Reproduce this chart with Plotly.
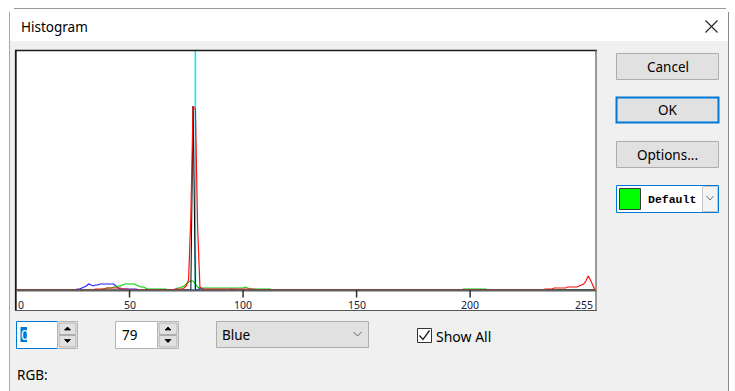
import plotly.graph_objects as go

W, H = 735, 391

# ---------------- data (histogram counts per channel, arbitrary units) ----------------
red_bins = [35, 36, 37, 38, 39, 40, 41, 42, 43, 44, 45, 46, 47, 48, 49,
            70, 71, 72, 73, 74, 75, 76, 77, 78, 79, 80, 81,
            82, 83, 84, 85, 86, 87, 88, 89, 90, 91, 92, 93, 94, 95, 96, 97, 98, 99, 100, 101, 102, 103, 104,
            233, 234, 235, 236, 237, 238, 239, 240, 241, 242, 243, 244, 245, 246, 247,
            248, 249, 250, 251, 252, 253, 254]
red_counts = [1, 1, 1, 1, 1, 2, 2, 2, 2, 2, 2, 2, 1, 1, 1,
              1, 1, 1, 1, 2, 4, 10, 73, 184, 181, 62, 3,
              1, 1, 1, 1, 1, 1, 1, 1, 1, 1, 1, 1, 1, 1, 1, 1, 1, 1, 1, 1, 1, 1, 1,
              1, 1, 1, 1, 2, 2, 2, 2, 2, 2, 3, 3, 3, 3, 3,
              4, 5, 6, 9, 14, 10, 5]

green_bins = [38, 39, 40, 41, 42, 43, 44, 45, 46, 47, 48, 49, 50, 51, 52, 53, 54, 55, 56, 57,
              58, 59, 60, 61, 62, 63, 64, 65, 66,
              71, 72, 73, 74, 75, 76, 77, 78, 79, 80,
              81, 82, 83, 84, 85, 86, 87, 88, 89, 90, 91, 92, 93, 94, 95, 96, 97, 98, 99, 100,
              101, 102, 103, 104, 105, 106, 107, 108, 109, 110, 111, 112,
              197, 198, 199, 200, 201, 202, 203, 204, 205, 206, 207]
green_counts = [1, 1, 2, 2, 2, 3, 3, 4, 4, 5, 6, 6, 6, 6, 6, 5, 4, 3, 3, 2,
                1, 1, 1, 1, 1, 1, 1, 1, 1,
                2, 2, 3, 4, 6, 8, 9, 9, 6, 3,
                2, 2, 2, 2, 2, 2, 2, 2, 2, 2, 2, 2, 2, 2, 2, 2, 2, 2, 2, 2,
                3, 2, 1, 1, 1, 1, 1, 1, 1, 1, 1, 1,
                1, 1, 1, 1, 1, 1, 1, 1, 1, 1, 1]

blue_bins = [27, 28, 29, 30, 31, 32, 33, 34, 35, 36, 37, 38, 39, 40, 41, 42, 43, 44, 45,
             46, 47, 48, 49, 50, 51, 52, 53, 81, 82, 95, 105]
blue_counts = [1, 1, 2, 3, 4, 6, 5, 4, 5, 5, 6, 6, 6, 6, 6, 6, 6, 4, 2,
               1, 1, 1, 1, 1, 1, 1, 1, 2, 1, 1, 1]

black_bins = [78]
black_counts = [184]

cursor_value = 79
tick_values = [0, 50, 100, 150, 200, 255]
tick_labels = ["0", "50", "100", "150", "200", "255"]


def full(bins, counts):
    arr = [0] * 256
    for b, c in zip(bins, counts):
        arr[b] = c
    return arr


levels = list(range(256))

# ---------------- helpers (pixel -> paper) ----------------
def X(px):
    return px / W


def Y(py):
    return 1 - py / H


shapes = []
annotations = []
FONT = "Noto Sans"


def rect(x0, y0, x1, y1, fill, line=None, lw=1, layer="below"):
    shapes.append(dict(type="rect", xref="paper", yref="paper",
                       x0=X(x0), y0=Y(y0), x1=X(x1), y1=Y(y1),
                       fillcolor=fill, layer=layer,
                       line=dict(color=line if line else fill, width=lw if line else 0)))


def seg(x0, y0, x1, y1, color, lw=1, layer="above"):
    shapes.append(dict(type="line", xref="paper", yref="paper",
                       x0=X(x0), y0=Y(y0), x1=X(x1), y1=Y(y1),
                       layer=layer, line=dict(color=color, width=lw)))


def poly(points, color, fill=None, lw=1, closed=False):
    p = "M " + " L ".join(f"{X(a):.5f},{Y(b):.5f}" for a, b in points)
    if closed:
        p += " Z"
    shapes.append(dict(type="path", xref="paper", yref="paper", path=p, layer="above",
                       fillcolor=fill if fill else "rgba(0,0,0,0)",
                       line=dict(color=color, width=lw)))


def text(x, y, s, size=13, color="#000000", anchor="left", family=FONT):
    annotations.append(dict(xref="paper", yref="paper", x=X(x), y=Y(y), text=s,
                            showarrow=False, xanchor=anchor, yanchor="middle",
                            font=dict(size=size, color=color, family=family)))


# ---------------- dialog chrome ----------------
rect(9, 41, 729, 391, "#f0f0f0")
rect(9, 8.5, 729, 41, "#ffffff")
seg(14, 8.5, 726, 8.5, "#9a9a9a", 1, "below")
seg(9.5, 12, 9.5, 391, "#a8a8a8", 1, "below")
seg(728.5, 12, 728.5, 391, "#8a8a8a", 1, "below")
text(19, 27, "Histogram", 13.5)
seg(705.5, 20.5, 717.5, 32.5, "#222222", 1.1)
seg(717.5, 20.5, 705.5, 32.5, "#222222", 1.1)

# plot frame
rect(15, 50, 597, 311, "#ffffff")
seg(15, 50.5, 597, 50.5, "#1a1a1a", 1.6)
seg(15.8, 50, 15.8, 311, "#1a1a1a", 1.8)
seg(596, 50, 596, 311, "#555555", 1.2)
seg(15, 310.5, 597, 310.5, "#555555", 1.2)

# axis line and ticks
shapes.append(dict(type="line", xref="paper", yref="paper", x0=X(16), x1=X(596),
                   y0=Y(290.5), y1=Y(290.5), layer="above",
                   line=dict(color="#606060", width=2)))
for v in tick_values[1:-1]:
    shapes.append(dict(type="line", xref="x", yref="paper", x0=v, x1=v,
                       y0=Y(290), y1=Y(297.5), layer="above",
                       line=dict(color="#303030", width=1.5)))
for v, lab in zip(tick_values, tick_labels):
    anchor = "left" if v == tick_values[0] else ("right" if v == tick_values[-1] else "center")
    annotations.append(dict(xref="x", yref="paper", x=v, y=Y(304.5), text=lab,
                            showarrow=False, xanchor=anchor, yanchor="middle",
                            font=dict(size=10.5, color="#20203a", family=FONT)))

# cursor line
shapes.append(dict(type="line", xref="x", yref="paper", x0=cursor_value, x1=cursor_value,
                   y0=Y(289), y1=Y(51), layer="below",
                   line=dict(color="#10eaff", width=1.6)))

# ---------------- right-hand buttons ----------------
def button(y0, y1, label, border="#adadad", lw=1):
    rect(616.5, y0, 718.5, y1, "#e1e1e1", border, lw, "above")
    text(667.5, (y0 + y1) / 2, label, 13.5, anchor="center")


button(53.5, 79.5, "Cancel")
button(97.5, 122.5, "OK", "#0078d7", 2)
button(141.5, 167.5, "Options...")

rect(616.5, 185.5, 718.5, 212.5, "#ffffff", "#0078d7", 1, "above")
rect(619.5, 188.5, 640.5, 209.5, "#00ff00", "#3a3a3a", 1, "above")
text(646, 199, "<b>Default</b>", 11.5, family="Liberation Mono")
rect(702.5, 186.5, 717.5, 211.5, "#f4f4f4", "#c8c8c8", 1, "above")
poly([(706.5, 196), (710, 200), (713.5, 196)], "#707070", lw=1)

# ---------------- bottom controls ----------------
def spinner(x0, x1, y0, y1):
    rect(x0, y0, x1, y1, "#ffffff", "#b4b4b4", 1, "above")
    ym = (y0 + y1) / 2
    rect(x0 + 1.5, y0 + 1.5, x1 - 1.5, ym - 0.5, "#e1e1e1", "#adadad", 1, "above")
    rect(x0 + 1.5, ym + 0.5, x1 - 1.5, y1 - 1.5, "#e1e1e1", "#adadad", 1, "above")
    cx = (x0 + x1) / 2
    poly([(cx - 3, y0 + 8.5), (cx + 3, y0 + 8.5), (cx, y0 + 5.5)], "#000000", "#000000", 0.8, True)
    poly([(cx - 3, ym + 4.5), (cx + 3, ym + 4.5), (cx, ym + 7.5)], "#000000", "#000000", 0.8, True)


rect(16.5, 321.5, 57.5, 348.5, "#ffffff", "#0078d7", 1, "above")
spinner(57.5, 77.5, 321.5, 348.5)
rect(20.5, 327, 27, 342, "#0078d7", None, 0, "above")
text(19.3, 334.5, "0", 13.5, color="#ffffff")

rect(115.5, 321.5, 157.5, 348.5, "#ffffff", "#b4b4b4", 1, "above")
spinner(157.5, 178.5, 321.5, 348.5)
text(119.5, 335, "79", 13.5)

rect(216.5, 321.5, 368.5, 347.5, "#e1e1e1", "#adadad", 1, "above")
text(220, 334.5, "Blue", 13.5)
poly([(353.5, 332), (357.5, 336), (361.5, 332)], "#606060", lw=1)

rect(417.5, 328.5, 431.5, 342.5, "#ffffff", "#333333", 1, "above")
poly([(419.5, 335.5), (423, 339.5), (429.5, 330.5)], "#222222", lw=1.3)
text(434.5, 336.5, "Show All", 14)

text(15, 375, "RGB:", 13.5)

# ---------------- traces ----------------
fig = go.Figure()
series = [("Blue", blue_bins, blue_counts, "#2020ff", 1.1),
          ("Green", green_bins, green_counts, "#00d000", 1.1),
          ("Gray", black_bins, black_counts, "#000000", 1.0),
          ("Red", red_bins, red_counts, "#ff1010", 1.2)]
for name, b, c, col, lw in series:
    fig.add_trace(go.Scatter(x=levels, y=full(b, c), mode="lines", name=name,
                             line=dict(color=col, width=lw), hoverinfo="skip"))

fig.update_layout(
    width=W, height=H,
    margin=dict(l=0, r=0, t=0, b=0),
    paper_bgcolor="#ffffff",
    plot_bgcolor="rgba(0,0,0,0)",
    showlegend=False,
    xaxis=dict(domain=[X(16), X(595)], range=[0, 255], visible=False, fixedrange=True),
    yaxis=dict(domain=[Y(290), Y(51)], range=[0, 239], visible=False, fixedrange=True),
    shapes=shapes,
    annotations=annotations,
)

fig.write_html("out.html", config={"displayModeBar": False},
               post_script="document.body.style.margin='0px';document.body.style.overflow='hidden';")
